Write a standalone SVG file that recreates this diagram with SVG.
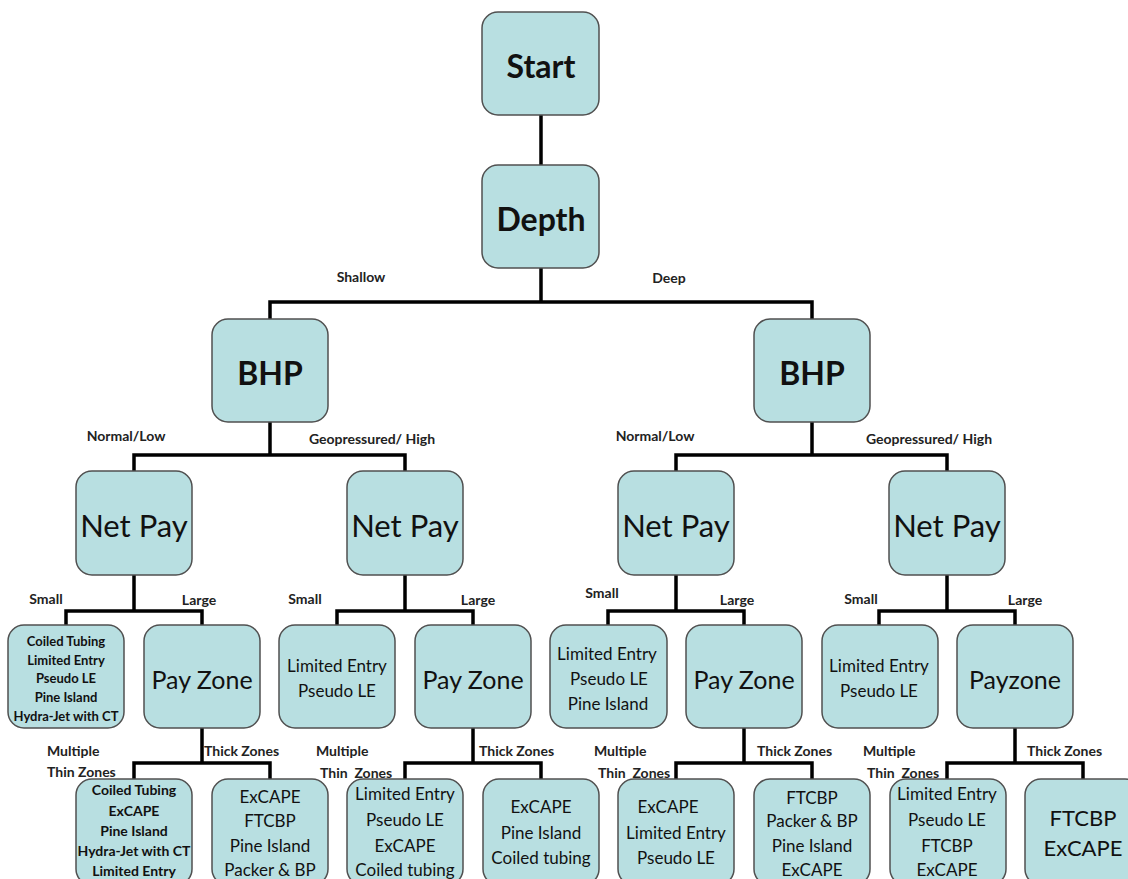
<svg xmlns="http://www.w3.org/2000/svg" width="1128" height="879" viewBox="0 0 1128 879">
  <style>
    .box { fill: #b8dfe1; stroke: #505050; stroke-width: 1.5; }
    .conn { fill: none; stroke: #000; stroke-width: 3.5; stroke-linejoin: miter; stroke-linecap: square; }
    text { font-family: Lato, "Liberation Sans", sans-serif; fill: #111; text-anchor: middle; dominant-baseline: central; }
    .big { font-size: 32px; font-weight: bold; }
    .np { font-size: 31px; }
    .pz { font-size: 25px; }
    .l5 { font-size: 13px; font-weight: bold; }
    .l17 { font-size: 17px; }
    .l14 { font-size: 14px; font-weight: bold; }
    .l20 { font-size: 22px; }
    .lbl { font-size: 14px; font-weight: bold; fill: #222; }
    .lblL { font-size: 14px; font-weight: bold; fill: #222; text-anchor: start; }
  </style>
  <rect width="1128" height="879" fill="#ffffff"/>

  <!-- connectors -->
  <g id="connectors" class="conn">
    <path d="M541 115 V165"/>
    <path d="M541 268 V302 M270 302 H812 M270 302 V319 M812 302 V319"/>
    <path d="M270 422 V455 M134 455 H405 M134 455 V471 M405 455 V471"/>
    <path d="M812 422 V455 M676 455 H947 M676 455 V471 M947 455 V471"/>
    <path d="M134 575 V611 M66 611 H202 M66 611 V625 M202 611 V625"/>
    <path d="M405 575 V611 M337 611 H473 M337 611 V625 M473 611 V625"/>
    <path d="M676 575 V611 M608 611 H744 M608 611 V625 M744 611 V625"/>
    <path d="M947 575 V611 M879 611 H1015 M879 611 V625 M1015 611 V625"/>
    <path d="M202 728 V763 M134 763 H270 M134 763 V779 M270 763 V779"/>
    <path d="M473 728 V763 M405 763 H541 M405 763 V779 M541 763 V779"/>
    <path d="M744 728 V763 M676 763 H812 M676 763 V779 M812 763 V779"/>
    <path d="M1015 728 V763 M947 763 H1083 M947 763 V779 M1083 763 V779"/>
  </g>

  <!-- branch labels -->
  <g id="labels">
    <text class="lbl" x="361" y="276">Shallow</text>
    <text class="lbl" x="669" y="277">Deep</text>
    <text class="lbl" x="126" y="435">Normal/Low</text>
    <text class="lbl" x="372" y="438">Geopressured/ High</text>
    <text class="lbl" x="655" y="435">Normal/Low</text>
    <text class="lbl" x="929" y="438">Geopressured/ High</text>

    <text class="lbl" x="46" y="598">Small</text>
    <text class="lbl" x="199" y="599">Large</text>
    <text class="lbl" x="305" y="598">Small</text>
    <text class="lbl" x="478" y="599">Large</text>
    <text class="lbl" x="602" y="592">Small</text>
    <text class="lbl" x="737" y="599">Large</text>
    <text class="lbl" x="861" y="598">Small</text>
    <text class="lbl" x="1025" y="599">Large</text>

    <text class="lblL" x="47" y="750">Multiple</text>
    <text class="lblL" x="47" y="771">Thin Zones</text>
    <text class="lblL" x="204" y="750">Thick Zones</text>
    <text class="lblL" x="316" y="750">Multiple</text>
    <text class="lblL" x="320" y="772" xml:space="preserve">Thin  Zones</text>
    <text class="lblL" x="479" y="750">Thick Zones</text>
    <text class="lblL" x="594" y="750">Multiple</text>
    <text class="lblL" x="598" y="772" xml:space="preserve">Thin  Zones</text>
    <text class="lblL" x="757" y="750">Thick Zones</text>
    <text class="lblL" x="863" y="750">Multiple</text>
    <text class="lblL" x="867" y="772" xml:space="preserve">Thin  Zones</text>
    <text class="lblL" x="1027" y="750">Thick Zones</text>
  </g>

  <!-- level 1-3 -->
  <g id="start"><rect class="box" x="482" y="12" width="117" height="103" rx="16"/><text class="big" x="541" y="65">Start</text></g>
  <g id="depth"><rect class="box" x="482" y="165" width="117" height="103" rx="16"/><text class="big" x="541" y="218">Depth</text></g>
  <g id="bhp-shallow"><rect class="box" x="212" y="319" width="116" height="103" rx="16"/><text class="big" x="270" y="372">BHP</text></g>
  <g id="bhp-deep"><rect class="box" x="754" y="319" width="116" height="103" rx="16"/><text class="big" x="812" y="372">BHP</text></g>

  <!-- net pay -->
  <g id="netpay-1"><rect class="box" x="76" y="471" width="116" height="104" rx="16"/><text class="np" x="134" y="525">Net Pay</text></g>
  <g id="netpay-2"><rect class="box" x="347" y="471" width="116" height="104" rx="16"/><text class="np" x="405" y="525">Net Pay</text></g>
  <g id="netpay-3"><rect class="box" x="618" y="471" width="116" height="104" rx="16"/><text class="np" x="676" y="525">Net Pay</text></g>
  <g id="netpay-4"><rect class="box" x="889" y="471" width="116" height="104" rx="16"/><text class="np" x="947" y="525">Net Pay</text></g>

  <!-- small net pay results -->
  <g id="small-1"><rect class="box" x="8" y="625" width="116" height="103" rx="16"/>
    <text class="l5" x="66" y="641">Coiled Tubing</text>
    <text class="l5" x="66" y="660">Limited Entry</text>
    <text class="l5" x="66" y="678">Pseudo LE</text>
    <text class="l5" x="66" y="697">Pine Island</text>
    <text class="l5" x="66" y="716">Hydra-Jet with CT</text>
  </g>
  <g id="small-2"><rect class="box" x="279" y="625" width="116" height="103" rx="16"/>
    <text class="l17" x="337" y="665">Limited Entry</text>
    <text class="l17" x="337" y="690">Pseudo LE</text>
  </g>
  <g id="small-3"><rect class="box" x="550" y="625" width="117" height="103" rx="16"/>
    <text class="l17" x="607" y="653">Limited Entry</text>
    <text class="l17" x="609" y="678">Pseudo LE</text>
    <text class="l17" x="608" y="703">Pine Island</text>
  </g>
  <g id="small-4"><rect class="box" x="822" y="625" width="116" height="103" rx="16"/>
    <text class="l17" x="879" y="665">Limited Entry</text>
    <text class="l17" x="879" y="690">Pseudo LE</text>
  </g>

  <!-- pay zone -->
  <g id="payzone-1"><rect class="box" x="144" y="625" width="116" height="103" rx="16"/><text class="pz" x="202" y="679">Pay Zone</text></g>
  <g id="payzone-2"><rect class="box" x="415" y="625" width="116" height="103" rx="16"/><text class="pz" x="473" y="679">Pay Zone</text></g>
  <g id="payzone-3"><rect class="box" x="686" y="625" width="116" height="103" rx="16"/><text class="pz" x="744" y="679">Pay Zone</text></g>
  <g id="payzone-4"><rect class="box" x="957" y="625" width="116" height="103" rx="16"/><text class="pz" x="1015" y="679">Payzone</text></g>

  <!-- level 5 results -->
  <g id="thin-1"><rect class="box" x="76" y="779" width="116" height="106" rx="16"/>
    <text class="l14" x="134" y="789">Coiled Tubing</text>
    <text class="l14" x="134" y="810">ExCAPE</text>
    <text class="l14" x="134" y="830">Pine Island</text>
    <text class="l14" x="134" y="850">Hydra-Jet with CT</text>
    <text class="l14" x="134" y="870">Limited Entry</text>
  </g>
  <g id="thick-1"><rect class="box" x="212" y="779" width="116" height="106" rx="16"/>
    <text class="l17" x="270" y="796">ExCAPE</text>
    <text class="l17" x="270" y="820">FTCBP</text>
    <text class="l17" x="270" y="845">Pine Island</text>
    <text class="l17" x="270" y="869">Packer &amp; BP</text>
  </g>
  <g id="thin-2"><rect class="box" x="347" y="779" width="116" height="106" rx="16"/>
    <text class="l17" x="405" y="793">Limited Entry</text>
    <text class="l17" x="405" y="819">Pseudo LE</text>
    <text class="l17" x="405" y="845">ExCAPE</text>
    <text class="l17" x="405" y="869">Coiled tubing</text>
  </g>
  <g id="thick-2"><rect class="box" x="483" y="779" width="116" height="106" rx="16"/>
    <text class="l17" x="541" y="806">ExCAPE</text>
    <text class="l17" x="541" y="832">Pine Island</text>
    <text class="l17" x="541" y="857">Coiled tubing</text>
  </g>
  <g id="thin-3"><rect class="box" x="618" y="779" width="116" height="106" rx="16"/>
    <text class="l17" x="668" y="806">ExCAPE</text>
    <text class="l17" x="676" y="832">Limited Entry</text>
    <text class="l17" x="676" y="857">Pseudo LE</text>
  </g>
  <g id="thick-3"><rect class="box" x="754" y="779" width="116" height="106" rx="16"/>
    <text class="l17" x="812" y="797">FTCBP</text>
    <text class="l17" x="812" y="820">Packer &amp; BP</text>
    <text class="l17" x="812" y="845">Pine Island</text>
    <text class="l17" x="812" y="869">ExCAPE</text>
  </g>
  <g id="thin-4"><rect class="box" x="890" y="779" width="116" height="106" rx="16"/>
    <text class="l17" x="947" y="793">Limited Entry</text>
    <text class="l17" x="947" y="819">Pseudo LE</text>
    <text class="l17" x="947" y="845">FTCBP</text>
    <text class="l17" x="947" y="869">ExCAPE</text>
  </g>
  <g id="thick-4"><rect class="box" x="1025" y="779" width="116" height="106" rx="16"/>
    <text class="l20" x="1083" y="817">FTCBP</text>
    <text class="l20" x="1083" y="847">ExCAPE</text>
  </g>
</svg>
